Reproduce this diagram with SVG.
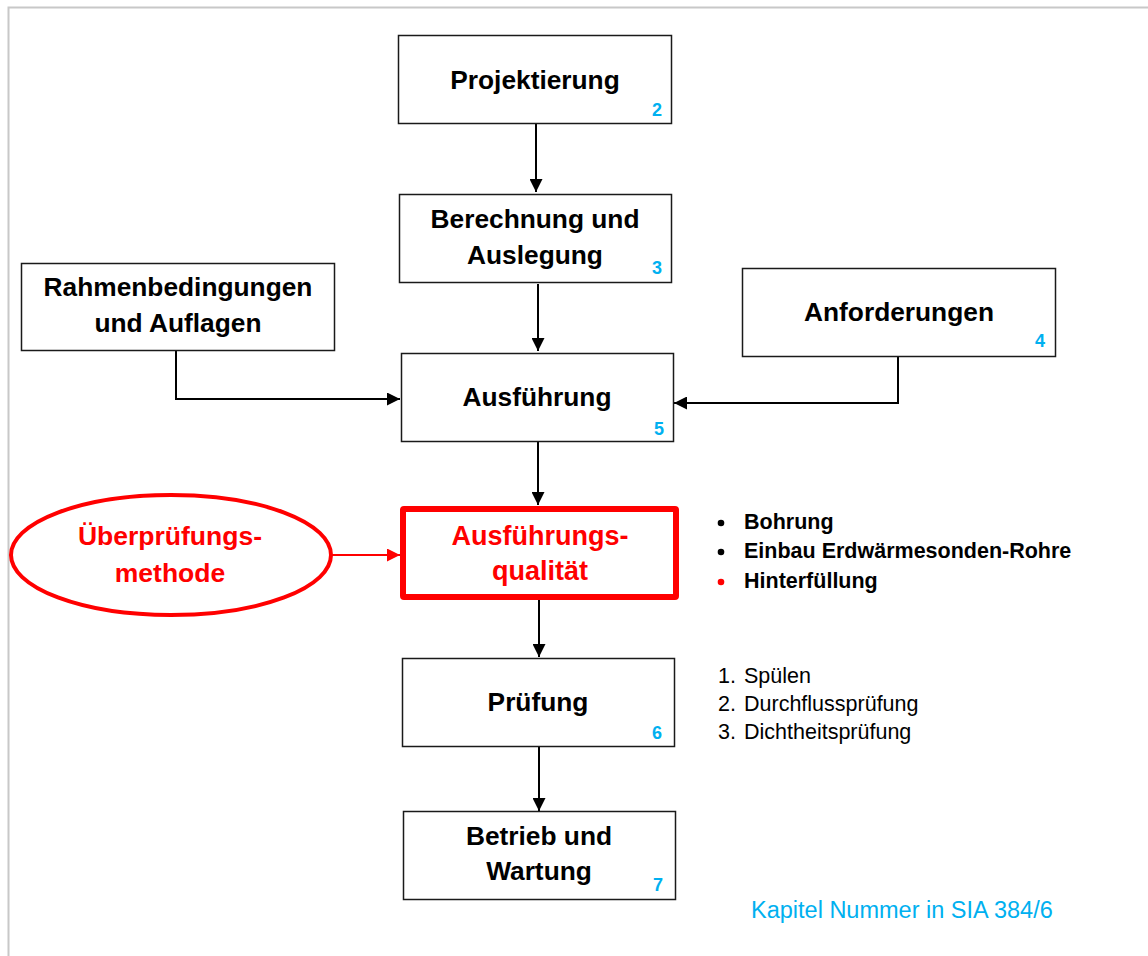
<svg xmlns="http://www.w3.org/2000/svg" width="1148" height="956" viewBox="0 0 1148 956">
<style>
.box{fill:#fff;stroke:#1a1a1a;stroke-width:1.5}
.lbl{font-family:"Liberation Sans",Arial,sans-serif;font-weight:bold;font-size:26.3px;fill:#000;text-anchor:middle}
.num{font-family:"Liberation Sans",Arial,sans-serif;font-weight:bold;font-size:18px;fill:#00B0F0;text-anchor:end}
.red{fill:#FF0000}
.con{fill:none;stroke:#000;stroke-width:2}
.conr{fill:none;stroke:#FF0000;stroke-width:2}
.lst{font-family:"Liberation Sans",Arial,sans-serif;font-size:21.5px;fill:#000}
.b{font-weight:bold}
</style>
<defs>
<marker id="ah" viewBox="0 0 13 13" refX="13" refY="6.5" markerWidth="13" markerHeight="13" markerUnits="userSpaceOnUse" orient="auto">
<path d="M0,0 L13,6.5 L0,13 Z" fill="#000"/>
</marker>
<marker id="ahr" viewBox="0 0 13 13" refX="13" refY="6.5" markerWidth="13" markerHeight="13" markerUnits="userSpaceOnUse" orient="auto">
<path d="M0,0 L13,6.5 L0,13 Z" fill="#FF0000"/>
</marker>
</defs>
<rect x="0" y="0" width="1148" height="956" fill="#fff"/>
<rect x="8.5" y="7.5" width="1160" height="970" fill="none" stroke="#c8c8c8" stroke-width="2"/>

<g id="connectors">
<path class="con" d="M536,124 V192" marker-end="url(#ah)"/>
<path class="con" d="M538,284 V351" marker-end="url(#ah)"/>
<path class="con" d="M538,442 V505" marker-end="url(#ah)"/>
<path class="con" d="M539,600 V657" marker-end="url(#ah)"/>
<path class="con" d="M539,747 V811" marker-end="url(#ah)"/>
<path class="con" d="M176,351 V399 H400" marker-end="url(#ah)"/>
<path class="con" d="M898,355 V403 H674" marker-end="url(#ah)"/>
<path class="conr" d="M332,555 H400" marker-end="url(#ahr)"/>
</g>

<g id="projektierung">
<rect class="box" x="398.5" y="35.5" width="273" height="88"/>
<text class="lbl" x="535" y="89">Projektierung</text>
<text class="num" x="662" y="116">2</text>
</g>

<g id="berechnung">
<rect class="box" x="399.5" y="194.5" width="272" height="88"/>
<text class="lbl" x="535" y="228">Berechnung und</text>
<text class="lbl" x="535" y="264">Auslegung</text>
<text class="num" x="662" y="274">3</text>
</g>

<g id="rahmen">
<rect class="box" x="21.5" y="263.5" width="313" height="87"/>
<text class="lbl" x="178" y="296">Rahmenbedingungen</text>
<text class="lbl" x="178" y="332">und Auflagen</text>
</g>

<g id="anforderungen">
<rect class="box" x="742.5" y="268.5" width="313" height="88"/>
<text class="lbl" x="899" y="321">Anforderungen</text>
<text class="num" x="1045" y="347">4</text>
</g>

<g id="ausfuehrung">
<rect class="box" x="401.5" y="353.5" width="272" height="88"/>
<text class="lbl" x="537" y="406">Ausführung</text>
<text class="num" x="664" y="435">5</text>
</g>

<g id="qualitaet">
<rect x="403" y="509" width="273" height="88" fill="#fff" stroke="#FF0000" stroke-width="6" rx="1"/>
<text class="lbl red" x="540" y="545" style="font-size:27px">Ausführungs-</text>
<text class="lbl red" x="540" y="580" style="font-size:27px">qualität</text>
</g>

<g id="methode">
<ellipse cx="171" cy="555" rx="160" ry="60" fill="#fff" stroke="#FF0000" stroke-width="4"/>
<text class="lbl red" x="170" y="545" style="font-size:26.5px">Überprüfungs-</text>
<text class="lbl red" x="170" y="582" style="font-size:26.5px">methode</text>
</g>

<g id="pruefung">
<rect class="box" x="402.5" y="658.5" width="272" height="88"/>
<text class="lbl" x="538" y="711">Prüfung</text>
<text class="num" x="662" y="739">6</text>
</g>

<g id="betrieb">
<rect class="box" x="403.5" y="811.5" width="272" height="88"/>
<text class="lbl" x="539" y="845">Betrieb und</text>
<text class="lbl" x="539" y="880">Wartung</text>
<text class="num" x="663" y="891">7</text>
</g>

<g id="bullets">
<circle cx="721" cy="523" r="3.3" fill="#000"/>
<text class="lst b" x="744" y="529">Bohrung</text>
<circle cx="721" cy="552" r="3.3" fill="#000"/>
<text class="lst b" x="744" y="558">Einbau Erdwärmesonden-Rohre</text>
<circle cx="721" cy="582" r="3.3" fill="#FF0000"/>
<text class="lst b red" x="744" y="588">Hinterfüllung</text>
</g>

<g id="steps">
<text class="lst" x="718" y="683">1.</text>
<text class="lst" x="744" y="683">Spülen</text>
<text class="lst" x="718" y="711">2.</text>
<text class="lst" x="744" y="711">Durchflussprüfung</text>
<text class="lst" x="718" y="739">3.</text>
<text class="lst" x="744" y="739">Dichtheitsprüfung</text>
</g>

<text x="751" y="918" style="font-family:'Liberation Sans',Arial,sans-serif;font-size:23.5px;fill:#00B0F0">Kapitel Nummer in SIA 384/6</text>
</svg>
